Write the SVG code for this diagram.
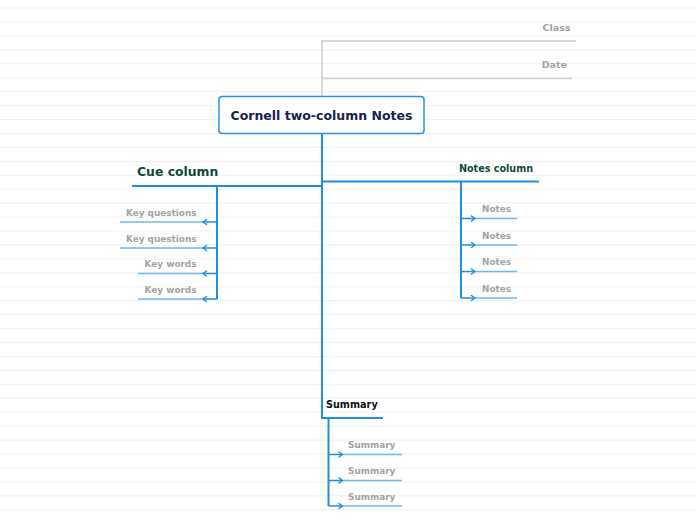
<svg xmlns="http://www.w3.org/2000/svg" width="696" height="520" viewBox="0 0 696 520">
<style>
.bg{fill:#ffffff}
.rule{stroke:#efefef;stroke-width:1;fill:none}
.grey{stroke:#cfcfcf;stroke-width:1.5;fill:none}
.main{stroke:#1e8fe0;stroke-width:2;fill:none}
.sub{stroke:#1e8fe0;stroke-width:1.5;fill:none}
.light{stroke:#6db9ee;stroke-width:1.5;fill:none}
.arrow{stroke:#1e8fe0;stroke-width:1.5;fill:none;stroke-linecap:round;stroke-linejoin:round}
text{font-family:"DejaVu Sans","Liberation Sans",sans-serif;font-weight:bold}
.title{font-size:12.5px;fill:#16244f}
.head{fill:#0f4b3a}
.leaf{font-size:8.9px;fill:#a3a3a3}
.meta{font-size:9.5px;fill:#a3a3a3}
</style>
<rect class="bg" x="0" y="0" width="696" height="520"/>
<path class="rule" d="M0 8H696M0 21.94H696M0 35.88H696M0 49.82H696M0 63.76H696M0 77.7H696M0 91.64H696M0 105.58H696M0 119.52H696M0 133.46H696M0 147.4H696M0 161.34H696M0 175.28H696M0 189.22H696M0 203.16H696M0 217.1H696M0 231.04H696M0 244.98H696M0 258.92H696M0 272.86H696M0 286.8H696M0 300.74H696M0 314.68H696M0 328.62H696M0 342.56H696M0 356.5H696M0 370.44H696M0 384.38H696M0 398.32H696M0 412.26H696M0 426.2H696M0 440.14H696M0 454.08H696M0 468.02H696M0 481.96H696M0 495.9H696M0 509.84H696"/>

<g id="connectors">
  <!-- grey top meta lines -->
  <path class="grey" d="M322 96V41H576M322 78.5H572"/>
  <!-- main trunk -->
  <path class="main" d="M322 133V418"/>
  <!-- cue column -->
  <path class="main" d="M132 186H322"/>
  <path class="main" d="M217 186V299"/>
  <path class="sub" d="M217 222H203M217 248H203M217 273.5H203M217 299H203"/>
  <path class="light" d="M203 222H120M203 248H120M203 273.5H138M203 299H138"/>
  <path class="arrow" d="M206.5 219.5L203 222L206.5 224.5M206.5 245.5L203 248L206.5 250.5M206.5 271L203 273.5L206.5 276M206.5 296.5L203 299L206.5 301.5"/>
  <!-- notes column -->
  <path class="main" d="M322 181.5H539"/>
  <path class="main" d="M461 181.5V298"/>
  <path class="sub" d="M461 218.5H475M461 245H475M461 271.5H475M461 298H475"/>
  <path class="light" d="M475 218.5H517M475 245H517M475 271.5H517M475 298H517"/>
  <path class="arrow" d="M471.5 216L475 218.5L471.5 221M471.5 242.5L475 245L471.5 247.5M471.5 269L475 271.5L471.5 274M471.5 295.5L475 298L471.5 300.5"/>
  <!-- summary -->
  <path class="main" d="M321 418H383"/>
  <path class="main" d="M328.5 418V506"/>
  <path class="sub" d="M328.5 454.5H342.5M328.5 480.5H342.5M328.5 506H342.5"/>
  <path class="light" d="M342.5 454.5H402M342.5 480.5H402M342.5 506H402"/>
  <path class="arrow" d="M339 452L342.5 454.5L339 457M339 478L342.5 480.5L339 483M339 503.5L342.5 506L339 508.5"/>
</g>

<g id="node-main">
  <rect x="219" y="96.5" width="205" height="37" rx="3" ry="3" fill="#ffffff" stroke="#2a92dd" stroke-width="1.5"/>
  <text class="title" x="321.5" y="120" text-anchor="middle">Cornell two-column Notes</text>
</g>
<g id="node-class"><text class="meta" x="570.5" y="31" text-anchor="end">Class</text></g>
<g id="node-date"><text class="meta" x="567" y="68.3" text-anchor="end">Date</text></g>

<g id="node-cue">
  <text class="head" x="137" y="176" font-size="12.4">Cue column</text>
</g>
<g id="node-kq1"><text class="leaf" x="196.5" y="215.7" text-anchor="end">Key questions</text></g>
<g id="node-kq2"><text class="leaf" x="196.5" y="241.7" text-anchor="end">Key questions</text></g>
<g id="node-kw1"><text class="leaf" x="196.5" y="266.7" text-anchor="end">Key words</text></g>
<g id="node-kw2"><text class="leaf" x="196.5" y="292.7" text-anchor="end">Key words</text></g>

<g id="node-notes">
  <text class="head" x="459" y="171.7" font-size="9.6">Notes column</text>
</g>
<g id="node-n1"><text class="leaf" x="482" y="211.7">Notes</text></g>
<g id="node-n2"><text class="leaf" x="482" y="238.7">Notes</text></g>
<g id="node-n3"><text class="leaf" x="482" y="265">Notes</text></g>
<g id="node-n4"><text class="leaf" x="482" y="291.7">Notes</text></g>

<g id="node-summary">
  <text x="326" y="408.3" font-size="9.7" fill="#111111">Summary</text>
</g>
<g id="node-s1"><text class="leaf" x="348" y="448.3" font-size="9">Summary</text></g>
<g id="node-s2"><text class="leaf" x="348" y="474" font-size="9">Summary</text></g>
<g id="node-s3"><text class="leaf" x="348" y="500" font-size="9">Summary</text></g>
</svg>
